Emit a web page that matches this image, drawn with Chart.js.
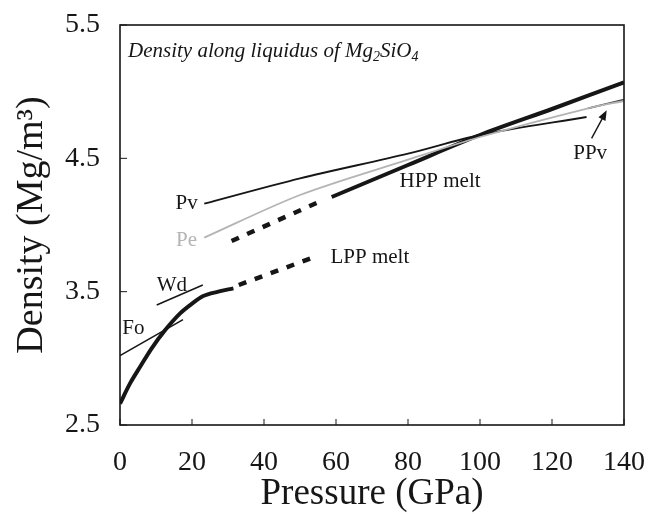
<!DOCTYPE html>
<html>
<head>
<meta charset="utf-8">
<script src="https://cdn.jsdelivr.net/npm/chart.js@4.4.0/dist/chart.umd.min.js"></script>
<style>
  html, body { margin: 0; padding: 0; background: #fff; }
</style>
</head>
<body>
<canvas id="chart" width="649" height="514"></canvas>
<script>
// pressure (GPa) / density (Mg/m3)
const meltLowP = [0, 2.8, 5.6, 8.8, 12.5, 16.7, 20, 23.1, 27.3, 31.5];
const meltLowD = [2.66, 2.812, 2.937, 3.075, 3.21, 3.337, 3.41, 3.467, 3.50, 3.525];
const lppDashP = [33, 55];
const lppDashD = [3.55, 3.77];
const hppDashP = [31, 55];
const hppDashD = [3.88, 4.17];
const hppMeltP = [58.8, 80, 100, 120, 140];
const hppMeltD = [4.21, 4.45, 4.675, 4.87, 5.07];
const pvP = [23.4, 50, 80, 100, 129.6];
const pvD = [4.16, 4.35, 4.535, 4.675, 4.81];
const peP = [23.4, 50, 80, 100, 130, 140];
const peD = [3.905, 4.225, 4.49, 4.66, 4.875, 4.93];
const ppvP = [130, 140];
const ppvD = [4.875, 4.94];
const foP = [0, 17.5];
const foD = [3.02, 3.29];
const wdP = [10.2, 23];
const wdD = [3.40, 3.55];

const xTickValues = [0, 20, 40, 60, 80, 100, 120, 140];
const yTickValues = [2.5, 3.5, 4.5, 5.5];

const labelText = ['Pv', 'Pe', 'Wd', 'Fo', 'HPP melt', 'LPP melt', 'PPv'];
const labelP = [18.5, 18.5, 14.4, 3.7, 88.9, 69.4, 130.6];
const labelD = [4.163, 3.887, 3.55, 3.225, 4.325, 3.76, 4.54];
const arrowP = [131, 135.2];
const arrowD = [4.65, 4.86];

const serif = "'Liberation Serif', 'Times New Roman', serif";
const ink = '#161616';
const grey = '#b4b4b4';

function pts(xs, ys) {
    return xs.map((x, i) => ({ x: x, y: ys[i] }));
}

function line(data, color, width, extra) {
    return Object.assign({
        data: data,
        borderColor: color,
        borderWidth: width,
        pointRadius: 0,
        showLine: true,
        fill: false,
        borderCapStyle: 'butt'
    }, extra || {});
}

const extras = {
    id: 'extras',
    afterDatasetsDraw(chart) {
        const ctx = chart.ctx;
        const xs = chart.scales.x, ys = chart.scales.y;
        const a = chart.chartArea;
        ctx.save();

        // frame
        ctx.strokeStyle = ink;
        ctx.lineWidth = 1.6;
        ctx.strokeRect(a.left, a.top, a.right - a.left, a.bottom - a.top);

        // inward tick marks
        ctx.lineWidth = 1;
        xTickValues.forEach(v => {
            const px = xs.getPixelForValue(v);
            ctx.beginPath(); ctx.moveTo(px, a.bottom); ctx.lineTo(px, a.bottom - 6); ctx.stroke();
        });
        yTickValues.forEach(v => {
            const py = ys.getPixelForValue(v);
            ctx.beginPath(); ctx.moveTo(a.left, py); ctx.lineTo(a.left + 7, py); ctx.stroke();
        });

        // curve labels
        ctx.font = '21px ' + serif;
        ctx.textAlign = 'center';
        ctx.textBaseline = 'middle';
        labelText.forEach((t, i) => {
            ctx.fillStyle = t === 'Pe' ? grey : ink;
            ctx.fillText(t, xs.getPixelForValue(labelP[i]), ys.getPixelForValue(labelD[i]));
        });

        // arrow to PPv
        const x0 = xs.getPixelForValue(arrowP[0]), y0 = ys.getPixelForValue(arrowD[0]);
        const x1 = xs.getPixelForValue(arrowP[1]), y1 = ys.getPixelForValue(arrowD[1]);
        const ang = Math.atan2(y1 - y0, x1 - x0);
        ctx.strokeStyle = ink;
        ctx.fillStyle = ink;
        ctx.lineWidth = 1.4;
        ctx.beginPath(); ctx.moveTo(x0, y0); ctx.lineTo(x1 - 6 * Math.cos(ang), y1 - 6 * Math.sin(ang)); ctx.stroke();
        ctx.beginPath();
        ctx.moveTo(x1, y1);
        ctx.lineTo(x1 - 10 * Math.cos(ang) + 4 * Math.sin(ang), y1 - 10 * Math.sin(ang) - 4 * Math.cos(ang));
        ctx.lineTo(x1 - 10 * Math.cos(ang) - 4 * Math.sin(ang), y1 - 10 * Math.sin(ang) + 4 * Math.cos(ang));
        ctx.closePath(); ctx.fill();

        // italic title with subscripts
        const parts = [['Density along liquidus of Mg', 0], ['2', 1], ['SiO', 0], ['4', 1]];
        let tx = a.left + 8;
        const base = a.top + 32;
        ctx.textAlign = 'left';
        ctx.textBaseline = 'alphabetic';
        ctx.fillStyle = ink;
        parts.forEach(p => {
            ctx.font = 'italic ' + (p[1] ? 14 : 21) + 'px ' + serif;
            ctx.fillText(p[0], tx, base + (p[1] ? 4 : 0));
            tx += ctx.measureText(p[0]).width;
        });
        ctx.restore();
    }
};

new Chart(document.getElementById('chart'), {
    type: 'scatter',
    data: {
        datasets: [
            line(pts(foP, foD), ink, 1.5),
            line(pts(wdP, wdD), ink, 1.5),
            line(pts(peP, peD), grey, 1.8, { tension: 0.3 }),
            line(pts(pvP, pvD), ink, 1.8, { tension: 0.3 }),
            line(pts(ppvP, ppvD), '#444', 1.8),
            line(pts(meltLowP, meltLowD), ink, 4, { cubicInterpolationMode: 'monotone' }),
            line(pts(lppDashP, lppDashD), ink, 4.5, { borderDash: [8, 9] }),
            line(pts(hppDashP, hppDashD), ink, 4.5, { borderDash: [8, 9] }),
            line(pts(hppMeltP, hppMeltD), ink, 4, { tension: 0.3 })
        ]
    },
    options: {
        responsive: false,
        animation: false,
        layout: { padding: { left: 0, top: 25, right: 25, bottom: 0 } },
        plugins: { legend: { display: false }, tooltip: { enabled: false } },
        scales: {
            x: {
                type: 'linear',
                min: 0,
                max: 140,
                afterBuildTicks: s => { s.ticks = xTickValues.map(v => ({ value: v })); },
                afterFit: s => { s.height = 89; s.paddingLeft = 0; s.paddingRight = 0; },
                grid: { display: false, drawTicks: false },
                border: { display: false },
                ticks: { color: ink, font: { family: serif, size: 28 }, padding: 21, maxRotation: 0 },
                title: { display: true, text: 'Pressure (GPa)', color: ink, font: { family: serif, size: 37, lineHeight: 1.05 }, padding: 0 }
            },
            y: {
                type: 'linear',
                min: 2.5,
                max: 5.5,
                afterBuildTicks: s => { s.ticks = yTickValues.map(v => ({ value: v })); },
                afterFit: s => { s.width = 120; s.paddingTop = 0; s.paddingBottom = 0; },
                grid: { display: false, drawTicks: false },
                border: { display: false },
                ticks: { color: ink, font: { family: serif, size: 28 }, padding: 20, callback: v => v.toFixed(1) },
                title: { display: true, text: 'Density (Mg/m³)', color: ink, font: { family: serif, size: 38 }, padding: { top: 9, bottom: 0 } }
            }
        }
    },
    plugins: [extras]
});
</script>
</body>
</html>
